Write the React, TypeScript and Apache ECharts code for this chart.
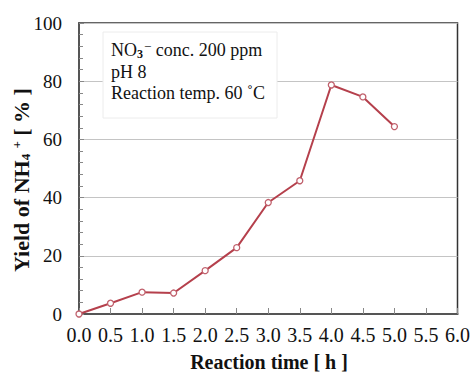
import React, { useEffect, useRef } from "react";
import * as echarts from "echarts";

const times = [0, 0.5, 1.0, 1.5, 2.0, 2.5, 3.0, 3.5, 4.0, 4.5, 5.0];
const yields = [0, 3.7, 7.5, 7.2, 14.9, 22.8, 38.3, 45.8, 78.7, 74.6, 64.4];
const conditionLines = ["conc. 200 ppm", "pH 8", "Reaction temp. 60 ˚C"];
const xTitle = "Reaction time [ h ]";

const FONT = "Liberation Serif, Times New Roman, serif";

export default function App() {
  const ref = useRef<HTMLDivElement>(null);
  useEffect(() => {
    if (!ref.current) return;
    const chart = echarts.init(ref.current, null, { renderer: "svg" });
    chart.setOption({
      animation: false,
      backgroundColor: "#ffffff",
      textStyle: { fontFamily: FONT },
      grid: {
        left: 79,
        right: 14,
        top: 23,
        bottom: 58,
        show: true,
        borderColor: "#333333",
        borderWidth: 1.5,
        backgroundColor: "transparent",
      },
      xAxis: {
        type: "value",
        min: 0,
        max: 6,
        interval: 0.5,
        axisLine: { show: true, lineStyle: { color: "#555555", width: 2 } },
        axisTick: { show: true, inside: true, length: 6, lineStyle: { color: "#888888", width: 1 } },
        axisLabel: {
          margin: 11,
          formatter: (v: number) => "{t|" + v.toFixed(1) + "}",
          rich: { t: { color: "#111111", fontFamily: FONT, fontSize: 20 } },
        },
        splitLine: { show: false },
      },
      yAxis: {
        type: "value",
        min: 0,
        max: 100,
        interval: 20,
        axisLine: { show: true, lineStyle: { color: "#555555", width: 2 } },
        axisTick: { show: true, inside: true, length: 5, lineStyle: { color: "#888888" } },
        minorTick: { show: true, splitNumber: 5, length: 4, lineStyle: { color: "#888888" } },
        axisLabel: {
          margin: 17,
          formatter: (v: number) => "{t|" + v + "}",
          rich: { t: { color: "#111111", fontFamily: FONT, fontSize: 19 } },
        },
        splitLine: { show: true, lineStyle: { color: "#c4c4c4", width: 1 } },
      },
      series: [
        {
          type: "line",
          data: times.map((t, i) => [t, yields[i]]),
          symbol: "circle",
          symbolSize: 6,
          showSymbol: true,
          lineStyle: { color: "#b5404c", width: 2 },
          itemStyle: { color: "#ffffff", borderColor: "#c0606c", borderWidth: 1.3 },
          z: 5,
        },
      ],
      graphic: [
        {
          type: "rect",
          shape: { x: 103, y: 32, width: 174, height: 86 },
          style: { fill: "#ffffff", stroke: "#ececec", lineWidth: 1 },
          z: 3,
        },
        {
          type: "text",
          x: 111,
          y: 50,
          z: 4,
          style: {
            text: "{n|NO}{sub|3}{sup|−}{n| " + conditionLines[0] + "}",
            textVerticalAlign: "middle",
            rich: {
              n: { fontFamily: FONT, fontSize: 18, fill: "#111111" },
              sub: { fontFamily: FONT, fontSize: 12, fontWeight: "bold", fill: "#111111", padding: [8, 0, 0, 0] },
              sup: { fontFamily: FONT, fontSize: 13, fill: "#111111", padding: [0, 0, 8, 1] },
            },
          },
        },
        {
          type: "text",
          x: 111,
          y: 72,
          z: 4,
          style: {
            text: "{n|" + conditionLines[1] + "}",
            textVerticalAlign: "middle",
            rich: { n: { fontFamily: FONT, fontSize: 18, fill: "#111111" } },
          },
        },
        {
          type: "text",
          x: 111,
          y: 93,
          z: 4,
          style: {
            text: "{n|" + conditionLines[2] + "}",
            textVerticalAlign: "middle",
            rich: { n: { fontFamily: FONT, fontSize: 18, fill: "#111111" } },
          },
        },
        {
          type: "text",
          x: 269,
          y: 362,
          z: 4,
          style: {
            text: "{b|" + xTitle + "}",
            textAlign: "center",
            textVerticalAlign: "middle",
            rich: { b: { fontFamily: FONT, fontSize: 20, fontWeight: "bold", fill: "#111111" } },
          },
        },
        {
          type: "text",
          x: 21,
          y: 180,
          rotation: Math.PI / 2,
          z: 4,
          style: {
            text: "{b|Yield of NH}{sub|4}{sup| +}{b| [ % ]}",
            textAlign: "center",
            textVerticalAlign: "middle",
            rich: {
              b: { fontFamily: FONT, fontSize: 22, fontWeight: "bold", fill: "#111111" },
              sub: { fontFamily: FONT, fontSize: 13, fontWeight: "bold", fill: "#111111", padding: [9, 0, 0, 0] },
              sup: { fontFamily: FONT, fontSize: 13, fontWeight: "bold", fill: "#111111", padding: [0, 0, 9, 2] },
            },
          },
        },
      ],
    });
    return () => chart.dispose();
  }, []);
  return (
    <div
      ref={ref}
      style={{ position: "fixed", left: 0, top: 0, width: 473, height: 372 }}
    />
  );
}
